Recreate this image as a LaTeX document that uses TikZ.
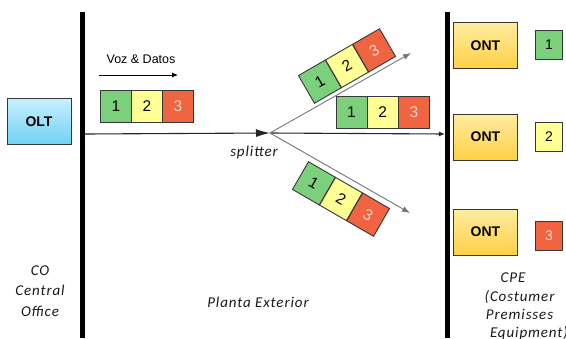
\documentclass[tikz,border=0pt]{standalone}
\usepackage{fontspec}
\setmainfont{Liberation Sans}
\newfontfamily\notefont[LetterSpace=6]{Carlito}
\usetikzlibrary{arrows.meta}

\definecolor{cellgreen}{RGB}{124,208,124}
\definecolor{cellyellow}{RGB}{255,255,150}
\definecolor{cellred}{RGB}{240,100,66}
\definecolor{redtext}{RGB}{255,212,198}
\definecolor{edge}{RGB}{55,55,55}
\definecolor{oltlight}{RGB}{200,240,255}
\definecolor{oltdark}{RGB}{110,210,245}
\definecolor{ontlight}{RGB}{255,236,160}
\definecolor{ontdark}{RGB}{255,208,70}
\definecolor{branchgray}{RGB}{120,120,120}
\definecolor{notegray}{RGB}{25,25,25}

\begin{document}
\begin{tikzpicture}[x=1pt,y=-1pt,
  cell/.style={draw=edge, line width=0.9pt, minimum width=31pt, minimum height=32pt,
    inner sep=0pt, font=\fontsize{15.5}{15.5}\selectfont},
  cg/.style={cell, fill=cellgreen},
  cy/.style={cell, fill=cellyellow},
  cr/.style={cell, fill=cellred, text=redtext},
  tag/.style={minimum width=27pt, minimum height=29pt, font=\fontsize{14}{14}\selectfont},
  device/.style={draw=edge, line width=0.9pt, minimum width=64pt, minimum height=46pt,
    inner sep=0pt, font=\bfseries\fontsize{14}{14}\selectfont},
  olt/.style={device, top color=oltlight, bottom color=oltdark},
  ont/.style={device, top color=ontlight, bottom color=ontdark},
  bar/.style={line width=5pt, black},
  mainline/.style={line width=1.1pt, draw=black!85},
  branch/.style={line width=0.9pt, draw=branchgray, -{Latex[length=8pt,width=6pt]}},
  note/.style={font=\notefont\itshape\fontsize{15}{15}\selectfont, text=notegray, align=center, inner sep=0pt}
]
\useasboundingbox (0,0) rectangle (566,338);

% domain boundaries
\coordinate (ltop) at (82.5,12);
\coordinate (lbot) at (82.5,338);
\coordinate (rtop) at (447,12);
\coordinate (rbot) at (447,338);
\draw[bar] (ltop) -- (lbot);
\draw[bar] (rtop) -- (rbot);

% equipment
\node[olt] (olt) at (39,121.5) {OLT};
\node[ont] (ont1) at (485.5,45.5) {ONT};
\node[ont] (ont2) at (485.5,137) {ONT};
\node[ont] (ont3) at (485.5,232) {ONT};

% downstream traffic direction
\node[font=\fontsize{12.5}{12.5}\selectfont, inner sep=0pt] (voz) at (141,59) {Voz \& Datos};
\coordinate (dira) at (99,75);
\coordinate (dirb) at (178,75);
\draw[line width=0.8pt, -{Latex[length=6pt,width=5pt]}] (dira) -- (dirb);

% fibre and splitter
\coordinate (src) at (85,134);
\coordinate (sp) at (270,133);
\coordinate (dst) at (445,134);
\coordinate (up) at (411,53);
\coordinate (dn) at (410,213);
\draw[mainline, -{Latex[length=14pt,width=8pt]}] (src) -- (sp);
\draw[mainline, -{Latex[length=6pt,width=5pt]}] (sp) -- (dst);
\draw[branch] (sp) -- (up);
\draw[branch] (sp) -- (dn);
\node[note] (spl) at (254,152) {splitter};

% frames on the feeder fibre
\node[cg] (a1) at (116,106) {1};
\node[cy] (a2) at (147,106) {2};
\node[cr] (a3) at (178,106) {3};

% frames on the three drops
\node[cg] (b1) at (351.5,112.5) {1};
\node[cy] (b2) at (382.7,112.5) {2};
\node[cr] (b3) at (413.9,112.5) {3};

\begin{scope}[shift={(347,66)}, rotate=30]
  \node[cg, rotate=30] (c1) at (-31.3,0) {1};
  \node[cy, rotate=30] (c2) at (0,0) {2};
  \node[cr, rotate=30] (c3) at (31.3,0) {3};
\end{scope}
\begin{scope}[shift={(341,199)}, rotate=-30]
  \node[cg, rotate=-30] (d1) at (-31.3,0) {1};
  \node[cy, rotate=-30] (d2) at (0,0) {2};
  \node[cr, rotate=-30] (d3) at (31.3,0) {3};
\end{scope}

% frame kept by each ONT
\node[cg, tag] (t1) at (549,45) {1};
\node[cy, tag] (t2) at (549,136.5) {2};
\node[cr, tag] (t3) at (549,235.5) {3};

% zone captions
\node[note, font=\notefont\itshape\fontsize{15}{20.5}\selectfont] (co) at (40,291) {CO\\Central\\Office};
\node[note] (pe) at (258,302) {Planta Exterior};
\node[note, font=\notefont\itshape\fontsize{15}{18.3}\selectfont] (cpe) at (519.5,306.5)
  {CPE\hspace*{13pt}\\(Costumer\\Premisses\\\hspace*{19pt}Equipment)};
\end{tikzpicture}
\end{document}
